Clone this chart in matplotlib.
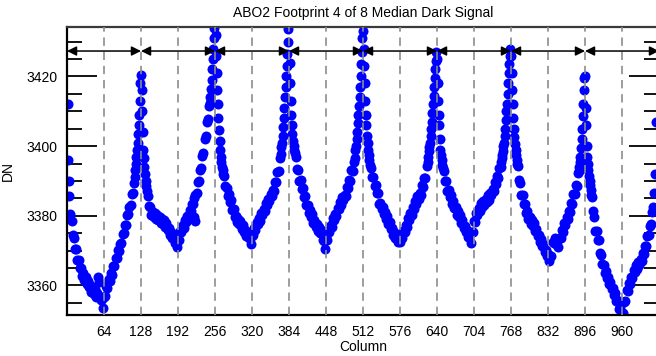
import matplotlib
matplotlib.use("Agg")
import matplotlib.pyplot as plt
from matplotlib.ticker import MultipleLocator, FixedLocator

plt.rcParams['font.family'] = ['Liberation Sans', 'DejaVu Sans']
plt.rcParams['font.size'] = 10

title = "ABO2 Footprint 4 of 8 Median Dark Signal"
x_label = "Column"
y_label = "DN"

# ---- data, one block per 128-column region ----
cols_a = [1, 2, 3] + list(range(4, 117, 2)) + list(range(117, 139))
dn_a = [
    3412, 3396, 3390,
    3385.8, 3380.4, 3378.5, 3374.6, 3373.7, 3370.5, 3370.4, 3367.3, 3367.3, 3364.9,
    3365.0, 3362.6, 3363.7, 3361.5, 3362.4, 3360.3, 3361.3, 3359.4, 3360.0, 3358.1,
    3359.2, 3357.5, 3358.9, 3356.8, 3357.8, 3362.5, 3361, 3355.9, 3356.0, 3353.6,
    3356.7, 3357.0, 3359.9, 3359.3, 3361.8, 3361.4, 3363.5, 3363.1, 3365.7, 3365.5,
    3367.9, 3367.8, 3370.3, 3369.9, 3372.0, 3372.1, 3374.7, 3375.0, 3377.4, 3377.3,
    3380.3, 3380.4, 3382.5, 3383.1, 3386.2, 3386.5, 3389.5,
    3391, 3393, 3395, 3397, 3399, 3401, 3403.5, 3406, 3409, 3413,
    3418, 3420.5, 3416, 3410, 3404, 3399, 3396.5, 3394, 3392, 3390,
    3388.5, 3387,
]

cols_b = (list(range(140, 217, 2)) + [218, 219, 220, 221, 222]
          + list(range(224, 247, 2)) + list(range(247, 271)))
dn_b = [
    3385.8, 3382.9, 3382.5, 3380.1, 3381.2, 3379.7, 3380.9, 3379.1, 3380.3, 3378.7,
    3379.5, 3377.9, 3379.2, 3377.7, 3378.9, 3376.8, 3377.8, 3375.9, 3376.5, 3374.4,
    3375.2, 3373.5, 3374.4, 3372.1, 3372.8, 3370.9, 3373.0, 3373.1, 3375.7, 3375.3,
    3377.4, 3376.5, 3378.8, 3378.2, 3380.0, 3379.3, 3381.7, 3381.3, 3383.4,
    3383.5, 3379.5, 3385, 3378.5, 3386,
    3386.5, 3389.6, 3389.9, 3393.0, 3393.6, 3397.2, 3398.0, 3401.9, 3402.8, 3406.8,
    3407.9, 3411.5,
    3412.5, 3414, 3416.5, 3419, 3422, 3425, 3428, 3431, 3434, 3437,
    3432, 3426, 3421, 3416, 3412, 3408, 3404.5, 3401.5, 3399, 3397,
    3395.5, 3394, 3393, 3392,
]

cols_c = list(range(272, 371, 2)) + list(range(371, 395))
dn_c = [
    3391.3, 3388.4, 3388.0, 3385.6, 3386.2, 3384.0, 3384.4, 3381.6, 3381.8, 3379.6,
    3380.0, 3378.1, 3379.2, 3377.5, 3378.4, 3376.3, 3377.3, 3375.4, 3376.0, 3374.1,
    3375.2, 3373.5, 3374.4, 3371.8, 3374.3, 3374.4, 3376.5, 3375.9, 3378.2, 3377.5,
    3379.4, 3378.6, 3380.8, 3380.2, 3382.0, 3381.4, 3383.7, 3383.0, 3384.9, 3384.1,
    3386.3, 3385.6, 3387.5, 3387.1, 3389.7, 3389.8, 3392.7, 3392.8, 3396.5, 3397.6,
    3399.8, 3401, 3403, 3405.5, 3408, 3411, 3414, 3417, 3420, 3423,
    3426.5, 3430, 3433.5, 3436, 3424, 3418, 3413, 3409, 3406, 3403.5,
    3401.5, 3400, 3399, 3398,
]

cols_d = list(range(396, 499, 2)) + list(range(499, 525))
dn_d = [
    3396.8, 3393.4, 3393.0, 3390.1, 3390.2, 3387.7, 3387.9, 3385.3, 3385.8, 3383.1,
    3383.0, 3380.9, 3381.7, 3379.7, 3380.4, 3378.0, 3378.8, 3376.9, 3377.5, 3375.6,
    3376.7, 3375.0, 3375.9, 3373.0, 3372.8, 3370.4, 3373.5, 3373.1, 3375.7, 3375.3,
    3377.4, 3376.8, 3379.3, 3378.7, 3380.5, 3379.9, 3382.2, 3381.8, 3383.9, 3383.1,
    3385.3, 3384.4, 3386.0, 3385.6, 3388.2, 3388.0, 3390.4, 3390.1, 3393.0, 3392.9,
    3395.5, 3396.6,
    3398.8, 3400, 3402, 3404, 3406.5, 3409, 3411.5, 3414, 3417, 3420,
    3423.5, 3427, 3431, 3433, 3428, 3423, 3418, 3413, 3409, 3406,
    3403, 3401, 3399, 3397.5, 3396, 3394.5,
]

cols_e = list(range(526, 625, 2)) + list(range(625, 651))
dn_e = [
    3393.8, 3391.2, 3391.0, 3388.6, 3388.9, 3386.5, 3386.4, 3383.5, 3383.8, 3381.9,
    3382.5, 3380.4, 3381.2, 3379.2, 3379.9, 3377.5, 3378.3, 3376.1, 3376.5, 3374.4,
    3375.4, 3373.7, 3374.6, 3372.5, 3372.8, 3372.4, 3374.5, 3373.6, 3375.7, 3375.2,
    3377.4, 3376.8, 3379.3, 3378.9, 3380.8, 3380.1, 3382.5, 3382.0, 3384.2, 3383.3,
    3385.6, 3384.7, 3386.5, 3386.1, 3388.7, 3388.3, 3390.9, 3390.8, 3394.3, 3395.4,
    3397, 3398.5, 3399.8, 3401, 3403, 3405, 3407, 3409.5, 3412, 3414.5,
    3417, 3419.5, 3422, 3424.5, 3427, 3425, 3418, 3413, 3409, 3406,
    3402, 3399, 3397.5, 3396, 3394.5, 3393.8,
]

cols_f = list(range(652, 751, 2)) + list(range(751, 780))
dn_f = [
    3392.8, 3389.9, 3390.0, 3387.1, 3387.5, 3385.3, 3385.9, 3383.5, 3384.3, 3382.1,
    3382.5, 3380.3, 3381.4, 3379.7, 3380.2, 3378.0, 3378.8, 3376.6, 3377.2, 3375.3,
    3376.0, 3374.0, 3374.9, 3372.3, 3375.3, 3375.4, 3378.5, 3378.1, 3380.7, 3380.3,
    3382.2, 3381.3, 3383.6, 3382.6, 3384.1, 3383.1, 3384.9, 3384.0, 3385.9, 3384.6,
    3386.6, 3386.1, 3387.8, 3387.1, 3389.7, 3389.2, 3391.4, 3390.8, 3393.8, 3393.9,
    3395.5, 3396.5, 3397.5, 3398.5, 3400, 3401, 3403, 3405, 3407.5, 3410,
    3412, 3415, 3418, 3421, 3423.5, 3426, 3428, 3426, 3421, 3416,
    3412, 3408, 3405, 3402.5, 3400.5, 3399, 3397.5, 3396, 3394.8,
]

cols_g = list(range(780, 885, 2)) + list(range(885, 908))
dn_g = [
    3394.3, 3390.4, 3389.5, 3386.1, 3386.0, 3383.3, 3383.4, 3380.8, 3381.3, 3379.2,
    3379.5, 3377.6, 3378.7, 3377.0, 3377.9, 3375.6, 3376.3, 3374.1, 3374.5, 3372.4,
    3373.2, 3371.2, 3371.9, 3369.5, 3370.3, 3368.4, 3369.0, 3367.1, 3368.2, 3368.5,
    3372.4, 3372.3, 3373.6, 3371.9, 3372.8, 3371.1, 3373.7, 3373.5, 3375.9, 3375.3,
    3377.8, 3377.4, 3379.5, 3379.1, 3381.5, 3381.0, 3383.7, 3383.5, 3386.3, 3386.2,
    3388.7, 3388.6, 3392.2,
    3392.8, 3394, 3395.5, 3397, 3399.5, 3402, 3405, 3408.5, 3412, 3416,
    3419.5, 3420, 3411, 3406, 3400, 3397, 3395, 3393, 3391.5, 3390,
    3388.8, 3387.5, 3386,
]

cols_h = list(range(908, 1017, 2)) + [1017, 1019]
dn_h = [
    3385.3, 3381.4, 3379.5, 3375.6, 3375.7, 3373.0, 3372.9, 3369.3, 3368.8, 3366.1,
    3366.0, 3363.6, 3364.2, 3362.0, 3362.4, 3360.3, 3361.0, 3358.9, 3359.3, 3357.1,
    3357.7, 3355.5, 3355.9, 3353.3, 3353.8, 3351.4, 3352.0, 3352.1, 3355.2, 3355.5,
    3358.6, 3358.3, 3360.8, 3360.4, 3362.5, 3362.1, 3364.4, 3363.8, 3365.9, 3364.6,
    3366.8, 3365.9, 3367.7, 3366.9, 3369.2, 3369.0, 3371.4, 3371.3, 3374.1, 3374.4,
    3377.0, 3377.6, 3381.2, 3382.5, 3386.5,
    3392, 3407,
]

x_ticks = [64, 128, 192, 256, 320, 384, 448, 512, 576, 640, 704, 768, 832, 896, 960]
y_ticks = [3360, 3380, 3400, 3420]
region_edges = [0, 128, 256, 384, 512, 640, 768, 896, 1024]
arrow_level = 3427.3

column = []
dn = []
for c, v in [(cols_a, dn_a), (cols_b, dn_b), (cols_c, dn_c), (cols_d, dn_d),
             (cols_e, dn_e), (cols_f, dn_f), (cols_g, dn_g), (cols_h, dn_h)]:
    n = min(len(c), len(v))
    column += c[:n]
    dn += v[:n]

fig = plt.figure(figsize=(6.56, 3.56), dpi=100)
ax = fig.add_axes([67 / 656, 1 - 315 / 356, (659 - 67) / 656, (315 - 27) / 356])

ax.plot(column, dn, linestyle='none', marker='o', markersize=7.2,
        color='#0000ff', markeredgewidth=0, zorder=2)

ax.set_xlim(0, 1024)
ax.set_ylim(3351.5, 3434.2)

for xv in x_ticks:
    ax.axvline(xv, color='#8c8c8c', linewidth=1.2, dashes=(5, 3.5), zorder=3)

for x0, x1 in zip(region_edges[:-1], region_edges[1:]):
    ax.annotate('', xy=(x1, arrow_level), xytext=(x0, arrow_level),
                arrowprops=dict(arrowstyle='<|-|>', color='black', lw=1.1,
                                shrinkA=0, shrinkB=0, mutation_scale=14),
                zorder=4)

ax.xaxis.set_major_locator(FixedLocator(x_ticks))
ax.yaxis.set_major_locator(FixedLocator(y_ticks))
ax.yaxis.set_minor_locator(MultipleLocator(5))
ax.tick_params(axis='x', which='both', length=0, pad=7, labelsize=10)
ax.tick_params(axis='y', which='major', direction='in', length=21.6, width=1.3,
               left=True, right=True, pad=7, labelsize=10)
ax.tick_params(axis='y', which='minor', direction='in', length=10.8, width=1.3,
               left=True, right=True)

for side in ['left', 'bottom']:
    ax.spines[side].set_linewidth(1.6)
    ax.spines[side].set_color('black')
ax.spines['top'].set_linewidth(1.6)
ax.spines['top'].set_color('#3a3a3a')
ax.spines['right'].set_visible(False)

ax.set_title(title, fontsize=10, pad=7)
ax.set_xlabel(x_label, fontsize=10, labelpad=1)
ax.set_ylabel(y_label, fontsize=10, labelpad=8)

fig.savefig('out.png', dpi=100)
